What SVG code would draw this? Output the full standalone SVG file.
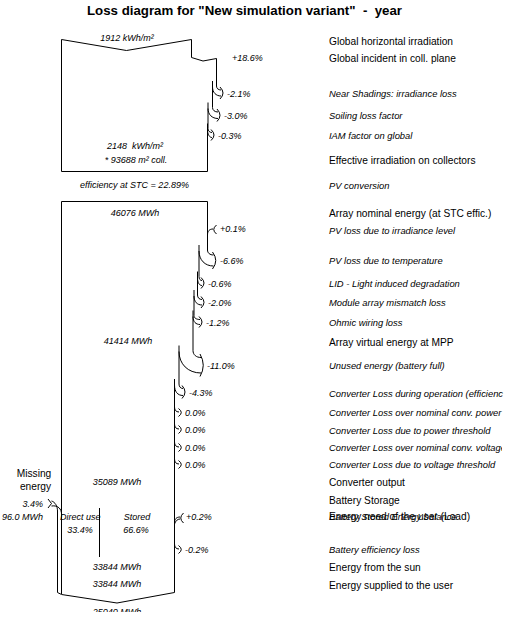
<svg xmlns="http://www.w3.org/2000/svg" width="528" height="621" viewBox="0 0 528 621">
<style>
.t{font-family:"Liberation Sans",Arial,sans-serif;fill:#000}
.n{font-size:10.2px}
.i{font-size:9.4px;font-style:italic}
.d{font-size:9px;font-style:italic}
.m{text-anchor:middle}
.e{text-anchor:end}
.ln{fill:none;stroke:#000;stroke-width:1}
</style>
<defs>
<clipPath id="cb"><rect x="0" y="0" width="528" height="612"/></clipPath>
<clipPath id="cr"><rect x="0" y="0" width="502" height="621"/></clipPath>
</defs>
<rect width="528" height="621" fill="#fff"/>
<text class="t" x="244.5" y="15" text-anchor="middle" font-size="12.5" font-weight="bold" textLength="315" lengthAdjust="spacingAndGlyphs" style="white-space:pre">Loss diagram for "New simulation variant"  -  year</text>

<g id="irradiation-box">
<path class="ln" d="M61.5,39.5 L126.5,50.5 L191.5,39.5 L191.5,57.5 L203,61 L216.5,58.5 L216.5,86"/>
<path class="ln" d="M212.5,81 L212.5,107.5"/>
<path class="ln" d="M208,102.5 L208,128.5"/>
<path class="ln" d="M207.5,123.5 L207.5,171.5 L61.5,171.5 L61.5,39.5"/>
<text class="t d m" x="127" y="41">1912 kWh/m²</text>
<text class="t d m" x="135" y="149" style="white-space:pre">2148  kWh/m²</text>
<text class="t d m" x="136" y="163">* 93688 m² coll.</text>
</g>

<g id="energy-column">
<path class="ln" d="M61.5,594 L61.5,201.5 L207.5,201.5 L207.5,250"/>
<path class="ln" d="M199,245 L199,276.5"/>
<path class="ln" d="M197.5,271.5 L197.5,295"/>
<path class="ln" d="M194,290 L194,315.5"/>
<path class="ln" d="M193,310.5 L193,350.5"/>
<path class="ln" d="M179,345.5 L179,384"/>
<path class="ln" d="M174.5,379 L174.5,592.5 L117,603 L61.5,594.5 L57.5,592.5 L57.5,511"/>
<path class="ln" d="M99.5,508 L99.5,557"/>
<text class="t d m" x="135" y="216">46076 MWh</text>
<text class="t d m" x="128" y="344">41414 MWh</text>
<text class="t d m" x="117" y="485">35089 MWh</text>
<text class="t d" x="60" y="520">Direct use</text>
<text class="t d m" x="137" y="520">Stored</text>
<text class="t d m" x="80" y="533">33.4%</text>
<text class="t d m" x="136" y="533">66.6%</text>
<text class="t d m" x="117" y="570">33844 MWh</text>
<text class="t d m" x="117" y="587">33844 MWh</text>
<text class="t d m" x="117" y="615" clip-path="url(#cb)">25040 MWh</text>
</g>

<g id="connectors">
<path class="ln" d="M216.5,86 C216.5,88.4 218.3,90 221,90 M212.5,87 C212.5,92.4 216,96 221,96 M220,87 Q226,93 220,99"/>
<path class="ln" d="M212.5,107.5 C212.5,110.2 214.7,112 218,112 M208,108.5 C208,114.5 212,118.5 218,118.5 M217,109 Q223,115.3 217,121.5"/>
<path class="ln" d="M208,128.5 C208,130.9 209.6,132.5 212,132.5 M207.5,129.5 C207.5,134.5 209.5,137.5 212,137.5 M211,129.5 Q217,135 211,140.5"/>
<path class="ln" d="M207.5,235 C207.5,231 209.5,229 213,229 M216.5,225 Q211,229.5 216.5,234"/>
<path class="ln" d="M207.5,250 C207.5,253 209.9,255 213.5,255 M199,251 C199,260 205,266 213.5,266 M212.5,252 Q219,260.5 212.5,269"/>
<path class="ln" d="M199,276.5 C199,279 200.2,280.5 202,280.5 M197.5,277.5 C197.5,283 199.5,285.5 202,285.5 M201,277.5 Q207,283 201,288.5"/>
<path class="ln" d="M197.5,295 C197.5,297.7 199.3,299.5 202,299.5 M194,296 C194,301.8 197.2,305 202,305 M201,296.5 Q207,302.3 201,308"/>
<path class="ln" d="M194,315.5 C194,318 196.4,319.5 200,319.5 M193,316.5 C193,322 196,324.5 200,324.5 M199,316.5 Q205,322 199,327.5"/>
<path class="ln" d="M193,350.5 C193,354.7 196.2,357.5 201,357.5 M179,351.5 C179,364 188,373 201,373 M200,354 Q206.5,365.3 200,376.5"/>
<path class="ln" d="M179,384 C179,386.7 180.6,388.5 183,388.5 M174.5,385 C174.5,391.5 177.5,395.5 183,395.5 M182,385.5 Q188,392 182,398.5"/>
<path class="ln" d="M174.5,407 C174.5,410 176,412 179,412 M178.5,408.5 Q184,412.5 178.5,416.5"/>
<path class="ln" d="M174.5,424 C174.5,427 176,429 179,429 M178.5,425.5 Q184,429.5 178.5,433.5"/>
<path class="ln" d="M174.5,442 C174.5,445 176,447 179,447 M178.5,443.5 Q184,447.5 178.5,451.5"/>
<path class="ln" d="M174.5,459 C174.5,462 176,464 179,464 M178.5,460.5 Q184,464.5 178.5,468.5"/>
<path class="ln" d="M174.5,523 C174.5,519 176.5,517 180,517 M174.5,524 C175.5,521 177.5,519 180,519 M183.5,513 Q178,518 183.5,523"/>
<path class="ln" d="M174.5,544 C174.5,547 176,549 179,549 M178.5,545.5 Q184,549.5 178.5,553.5"/>
<path class="ln" d="M48,499 L51.5,503.5 L48,508 M51.5,501 C55,502 57.5,506 57.5,511 M51.5,506 C58,505 61.5,509 61.5,514"/>
</g>

<g id="loss-values">
<text class="t d" x="232" y="61">+18.6%</text>
<text class="t d" x="227" y="97">-2.1%</text>
<text class="t d" x="224" y="119">-3.0%</text>
<text class="t d" x="218" y="139">-0.3%</text>
<text class="t d m" x="134.5" y="188">efficiency at  STC = 22.89%</text>
<text class="t d" x="220" y="232">+0.1%</text>
<text class="t d" x="220" y="264">-6.6%</text>
<text class="t d" x="208" y="287">-0.6%</text>
<text class="t d" x="208" y="306">-2.0%</text>
<text class="t d" x="206" y="326">-1.2%</text>
<text class="t d" x="207" y="369">-11.0%</text>
<text class="t d" x="189" y="396">-4.3%</text>
<text class="t d" x="185" y="416">0.0%</text>
<text class="t d" x="185" y="433">0.0%</text>
<text class="t d" x="185" y="451">0.0%</text>
<text class="t d" x="185" y="468">0.0%</text>
<text class="t d" x="186" y="520">+0.2%</text>
<text class="t d" x="185" y="553">-0.2%</text>
<text class="t n m" x="34" y="477">Missing</text>
<text class="t n m" x="35.5" y="490">energy</text>
<text class="t d e" x="43" y="507">3.4%</text>
<text class="t d e" x="43" y="520">96.0 MWh</text>
</g>

<g id="legend">
<text class="t n" x="329" y="45">Global horizontal irradiation</text>
<text class="t n" x="329" y="62">Global incident in coll. plane</text>
<text class="t i" x="329" y="97">Near Shadings: irradiance loss</text>
<text class="t i" x="329" y="119">Soiling loss factor</text>
<text class="t i" x="329" y="139">IAM factor on global</text>
<text class="t n" x="329" y="164">Effective irradiation on collectors</text>
<text class="t i" x="329" y="189">PV conversion</text>
<text class="t n" x="329" y="217">Array nominal energy (at STC effic.)</text>
<text class="t i" x="329" y="234">PV loss due to irradiance level</text>
<text class="t i" x="329" y="264">PV loss due to temperature</text>
<text class="t i" x="329" y="287">LID - Light induced degradation</text>
<text class="t i" x="329" y="306">Module array mismatch loss</text>
<text class="t i" x="329" y="326">Ohmic wiring loss</text>
<text class="t n" x="329" y="346">Array virtual energy at MPP</text>
<text class="t i" x="329" y="369">Unused energy (battery full)</text>
<text class="t i" x="329" y="397">Converter Loss during operation (efficienc</text>
<text class="t i" x="329" y="416">Converter Loss over nominal conv. power</text>
<text class="t i" x="329" y="434">Converter Loss due to power threshold</text>
<text class="t i" x="329" y="451" clip-path="url(#cr)">Converter Loss over nominal conv. voltage</text>
<text class="t i" x="329" y="468">Converter Loss due to voltage threshold</text>
<text class="t n" x="329" y="486">Converter output</text>
<text class="t n" x="329" y="504">Battery Storage</text>
<text class="t i" x="329" y="520">Battery Stored Energy balance</text>
<text class="t n" x="329" y="520">Energy need of the user (Load)</text>
<text class="t i" x="329" y="553">Battery efficiency loss</text>
<text class="t n" x="329" y="571">Energy from the sun</text>
<text class="t n" x="329" y="589">Energy supplied to the user</text>
</g>
</svg>
